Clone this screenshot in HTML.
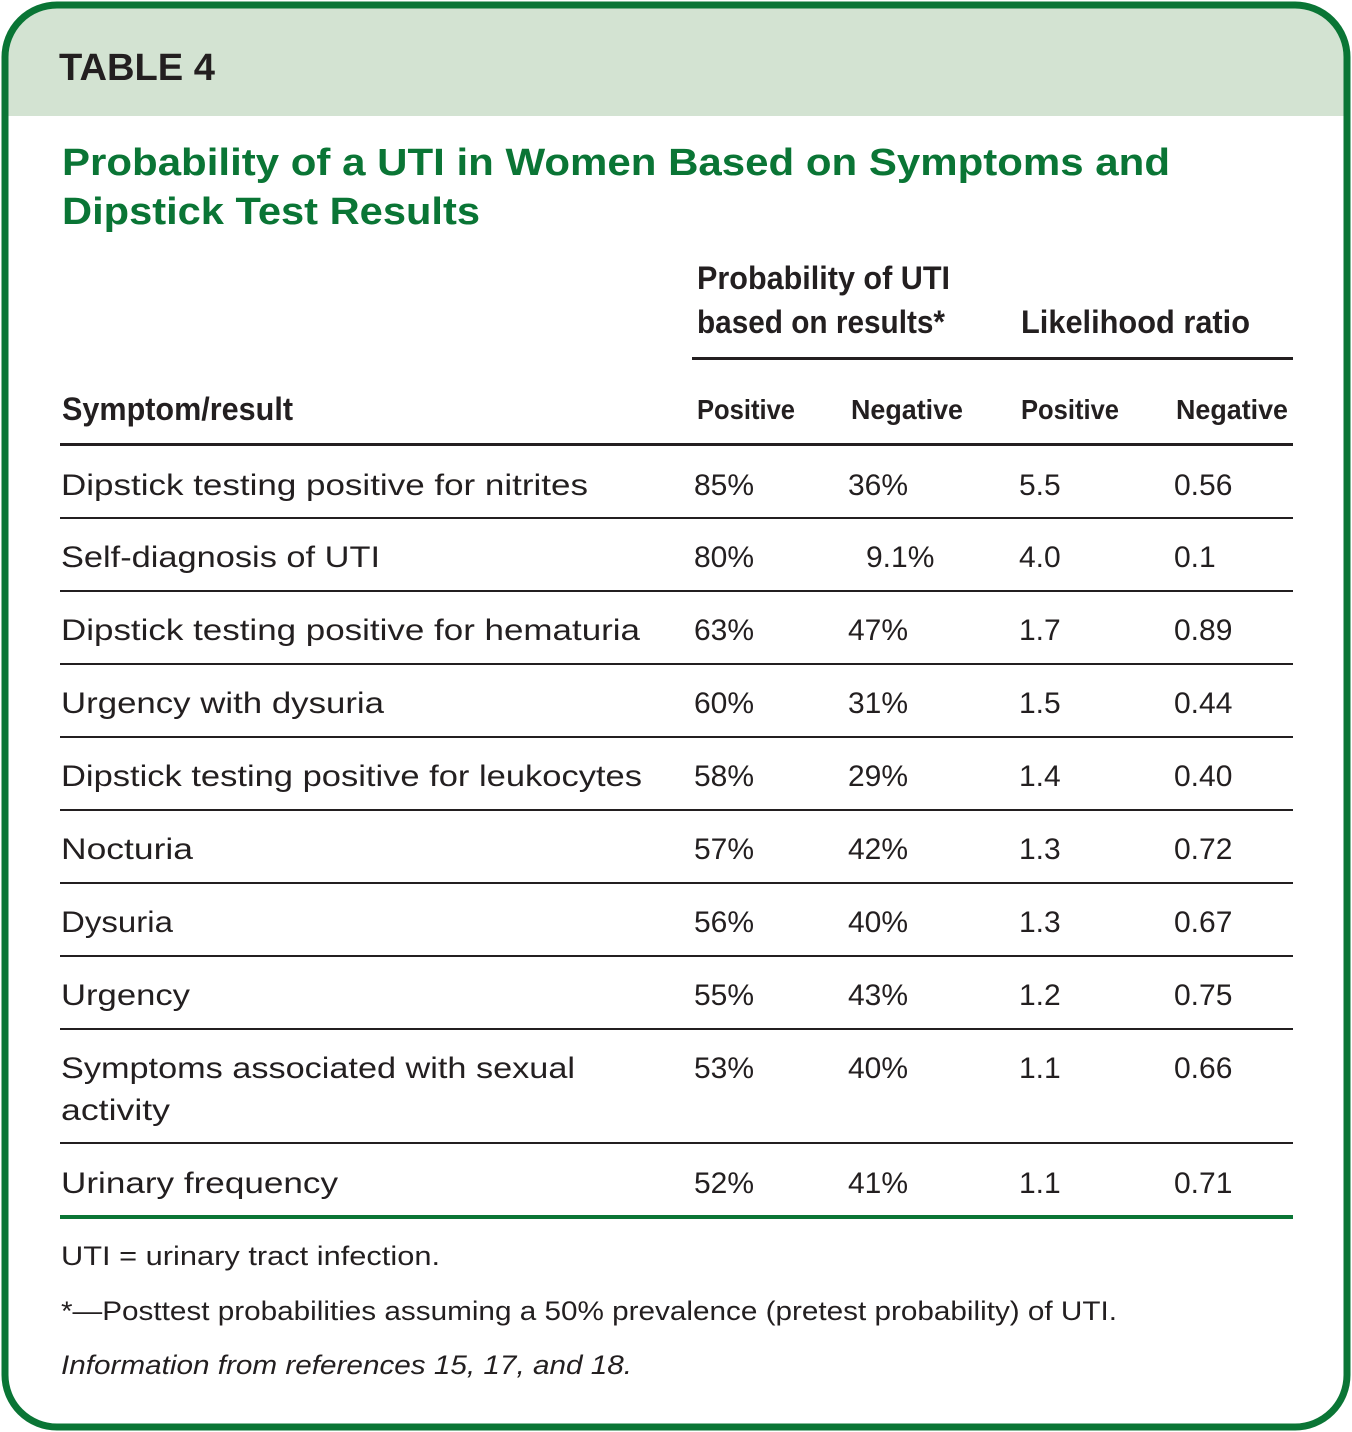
<!DOCTYPE html>
<html><head><meta charset="utf-8"><style>
html,body{margin:0;padding:0;background:#fff;}
svg{display:block;}
text{font-family:"Liberation Sans",sans-serif;}
.b{font-size:30px;fill:#231f20;}
.h{font-size:32px;font-weight:bold;fill:#231f20;}
.hs{font-size:28px;font-weight:bold;fill:#231f20;}
.f{font-size:27px;fill:#231f20;}
</style></head><body>
<svg width="1352" height="1432" viewBox="0 0 1352 1432" xmlns="http://www.w3.org/2000/svg">
<defs><clipPath id="c"><rect x="5" y="5" width="1342" height="1422" rx="52"/></clipPath></defs>
<rect x="5" y="5" width="1342" height="1422" rx="52" fill="#fff"/>
<rect x="0" y="0" width="1352" height="116" fill="#d3e3d2" clip-path="url(#c)"/>
<rect x="5" y="5" width="1342" height="1422" rx="52" fill="none" stroke="#0a7535" stroke-width="7"/>
<text x="59" y="80" font-size="38" font-weight="bold" fill="#231f20" textLength="156" lengthAdjust="spacingAndGlyphs">TABLE 4</text>
<text x="62" y="175" font-size="38" font-weight="bold" fill="#0a7535" textLength="1108" lengthAdjust="spacingAndGlyphs">Probability of a UTI in Women Based on Symptoms and</text>
<text x="62" y="224" font-size="38" font-weight="bold" fill="#0a7535" textLength="418" lengthAdjust="spacingAndGlyphs">Dipstick Test Results</text>

<text class="h" x="697" y="289" textLength="253" lengthAdjust="spacingAndGlyphs">Probability of UTI</text>
<text class="h" x="697" y="333" textLength="248" lengthAdjust="spacingAndGlyphs">based on results*</text>
<text class="h" x="1021" y="333" textLength="229" lengthAdjust="spacingAndGlyphs">Likelihood ratio</text>
<rect x="692" y="357" width="601" height="3" fill="#231f20"/>
<text class="h" x="62" y="420" textLength="231" lengthAdjust="spacingAndGlyphs">Symptom/result</text>
<text class="hs" x="697" y="419" textLength="98" lengthAdjust="spacingAndGlyphs">Positive</text>
<text class="hs" x="851" y="419" textLength="112" lengthAdjust="spacingAndGlyphs">Negative</text>
<text class="hs" x="1021" y="419" textLength="98" lengthAdjust="spacingAndGlyphs">Positive</text>
<text class="hs" x="1176" y="419" textLength="112" lengthAdjust="spacingAndGlyphs">Negative</text>
<rect x="60" y="443" width="1233" height="3" fill="#231f20"/>

<g class="b">
<text class="b" x="61" y="495" textLength="527" lengthAdjust="spacingAndGlyphs">Dipstick testing positive for nitrites</text>
<text class="b" x="694" y="495">85%</text><text class="b" x="848" y="495">36%</text><text class="b" x="1019" y="495">5.5</text><text class="b" x="1174" y="495">0.56</text>

<text class="b" x="61" y="567" textLength="319" lengthAdjust="spacingAndGlyphs">Self-diagnosis of UTI</text>
<text class="b" x="694" y="567">80%</text><text class="b" x="866" y="567">9.1%</text><text class="b" x="1019" y="567">4.0</text><text class="b" x="1174" y="567">0.1</text>

<text class="b" x="61" y="640" textLength="579" lengthAdjust="spacingAndGlyphs">Dipstick testing positive for hematuria</text>
<text class="b" x="694" y="640">63%</text><text class="b" x="848" y="640">47%</text><text class="b" x="1019" y="640">1.7</text><text class="b" x="1174" y="640">0.89</text>

<text class="b" x="61" y="713" textLength="323" lengthAdjust="spacingAndGlyphs">Urgency with dysuria</text>
<text class="b" x="694" y="713">60%</text><text class="b" x="848" y="713">31%</text><text class="b" x="1019" y="713">1.5</text><text class="b" x="1174" y="713">0.44</text>

<text class="b" x="61" y="786" textLength="581" lengthAdjust="spacingAndGlyphs">Dipstick testing positive for leukocytes</text>
<text class="b" x="694" y="786">58%</text><text class="b" x="848" y="786">29%</text><text class="b" x="1019" y="786">1.4</text><text class="b" x="1174" y="786">0.40</text>

<text class="b" x="61" y="859" textLength="132" lengthAdjust="spacingAndGlyphs">Nocturia</text>
<text class="b" x="694" y="859">57%</text><text class="b" x="848" y="859">42%</text><text class="b" x="1019" y="859">1.3</text><text class="b" x="1174" y="859">0.72</text>

<text class="b" x="61" y="932" textLength="112" lengthAdjust="spacingAndGlyphs">Dysuria</text>
<text class="b" x="694" y="932">56%</text><text class="b" x="848" y="932">40%</text><text class="b" x="1019" y="932">1.3</text><text class="b" x="1174" y="932">0.67</text>

<text class="b" x="61" y="1005" textLength="129" lengthAdjust="spacingAndGlyphs">Urgency</text>
<text class="b" x="694" y="1005">55%</text><text class="b" x="848" y="1005">43%</text><text class="b" x="1019" y="1005">1.2</text><text class="b" x="1174" y="1005">0.75</text>

<text class="b" x="61" y="1078" textLength="514" lengthAdjust="spacingAndGlyphs">Symptoms associated with sexual</text>
<text class="b" x="61" y="1120" textLength="109" lengthAdjust="spacingAndGlyphs">activity</text>
<text class="b" x="694" y="1078">53%</text><text class="b" x="848" y="1078">40%</text><text class="b" x="1019" y="1078">1.1</text><text class="b" x="1174" y="1078">0.66</text>

<text class="b" x="61" y="1193" textLength="277" lengthAdjust="spacingAndGlyphs">Urinary frequency</text>
<text class="b" x="694" y="1193">52%</text><text class="b" x="848" y="1193">41%</text><text class="b" x="1019" y="1193">1.1</text><text class="b" x="1174" y="1193">0.71</text>
</g>

<g fill="#231f20">
<rect x="60" y="517" width="1233" height="2"/>
<rect x="60" y="590" width="1233" height="2"/>
<rect x="60" y="663" width="1233" height="2"/>
<rect x="60" y="736" width="1233" height="2"/>
<rect x="60" y="809" width="1233" height="2"/>
<rect x="60" y="882" width="1233" height="2"/>
<rect x="60" y="955" width="1233" height="2"/>
<rect x="60" y="1028" width="1233" height="2"/>
<rect x="60" y="1142" width="1233" height="2"/>
</g>
<rect x="60" y="1215" width="1233" height="4" fill="#0a7535"/>

<text class="f" x="61" y="1265" textLength="379" lengthAdjust="spacingAndGlyphs">UTI = urinary tract infection.</text>
<text class="f" x="61" y="1320" textLength="1056" lengthAdjust="spacingAndGlyphs">*—Posttest probabilities assuming a 50% prevalence (pretest probability) of UTI.</text>
<text class="f" x="61" y="1374" font-style="italic" textLength="571" lengthAdjust="spacingAndGlyphs">Information from references 15, 17, and 18.</text>
</svg>
</body></html>
